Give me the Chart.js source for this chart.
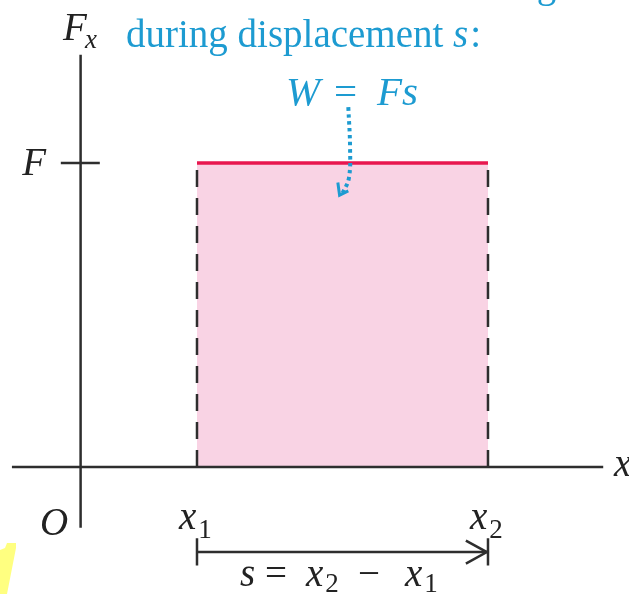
<!DOCTYPE html>
<html>
<head>
<meta charset="utf-8">
<script src="https://cdn.jsdelivr.net/npm/chart.js@4"></script>
<style>
  html, body { margin: 0; padding: 0; background: #fff; }
  #wrap { width: 629px; height: 594px; position: relative; }
</style>
</head>
<body>
<div id="wrap"><canvas id="chart" width="629" height="594"></canvas></div>
<script>
// schematic values (arbitrary units)
const posLabels = ['O', 'x1', 'x2'];
const posValues = [0, 2, 7];
const forceLabel = 'F';
const forceValue = 5;

const forceX = [2, 7];
const forceY = [5, 5];
const xAxisEnds = [-1.18, 8.98];
const yAxisEnds = [-1.0, 6.78];
const sArrowY = -1.4;

// dotted pointer from "W = Fs" down into the area
const pointerX = [4.6, 4.63, 4.61, 4.5];
const pointerY = [5.92, 5.25, 4.75, 4.5];

const ink = '#2e2e2e';
const blue = '#1d9bd1';
const serif = '"Liberation Serif", "DejaVu Serif", serif';

const pts = (xs, ys) => xs.map((x, i) => ({ x: x, y: ys[i] }));
const seg = (data, color, width, dash) => ({
  data: data,
  showLine: true,
  borderColor: color,
  borderWidth: width,
  borderDash: dash || [],
  borderCapStyle: 'butt',
  pointRadius: 0,
  fill: false,
  clip: false,
  tension: 0,
  order: 1
});

const x1 = posValues[1], x2 = posValues[2];
const F = forceValue;

const datasets = [
  // work area (drawn underneath everything else)
  {
    data: pts(forceX, forceY),
    showLine: true,
    borderColor: '#e8174f',
    borderWidth: 3.5,
    backgroundColor: '#f9d3e4',
    fill: 'origin',
    pointRadius: 0,
    clip: false,
    order: 5
  },
  seg([{ x: x1, y: 0 }, { x: x1, y: F - 0.03 }], ink, 2.5, [17, 11]),
  seg([{ x: x2, y: 0 }, { x: x2, y: F - 0.03 }], ink, 2.5, [17, 11]),
  // axes
  seg([{ x: xAxisEnds[0], y: 0 }, { x: xAxisEnds[1], y: 0 }], ink, 2.5),
  seg([{ x: 0, y: yAxisEnds[0] }, { x: 0, y: yAxisEnds[1] }], ink, 2.5),
  // tick at F
  seg([{ x: -0.34, y: F }, { x: 0.33, y: F }], ink, 2.5),
  // s arrow
  seg([{ x: x1, y: sArrowY }, { x: x2, y: sArrowY }], ink, 2.5),
  seg([{ x: x1, y: sArrowY + 0.23 }, { x: x1, y: sArrowY - 0.22 }], ink, 2.5),
  seg([{ x: x2, y: sArrowY + 0.23 }, { x: x2, y: sArrowY - 0.22 }], ink, 2.5),
  seg([{ x: x2 - 0.38, y: sArrowY + 0.19 }, { x: x2 - 0.02, y: sArrowY }, { x: x2 - 0.38, y: sArrowY - 0.19 }], ink, 2.5),
  // blue dotted pointer
  Object.assign(seg(pts(pointerX, pointerY), blue, 4, [3.5, 3.5]), { tension: 0.4 }),
  seg([{ x: 4.42, y: 4.68 }, { x: 4.45, y: 4.47 }, { x: 4.6, y: 4.54 }], blue, 3)
];

function italicSub(ctx, base, sub, x, y, size, drop) {
  ctx.font = 'italic ' + size + 'px ' + serif;
  ctx.fillText(base, x, y);
  const w = ctx.measureText(base).width;
  ctx.font = Math.round(size * 0.68) + 'px ' + serif;
  ctx.fillText(sub, x + w + 2, y + drop);
  return x + w + 2 + ctx.measureText(sub).width;
}

const labels = {
  id: 'labels',
  beforeDraw(chart) {
    const ctx = chart.ctx;
    ctx.save();
    ctx.fillStyle = '#ffff80';
    ctx.beginPath();
    ctx.moveTo(0, 550); ctx.lineTo(5, 548); ctx.lineTo(7, 543);
    ctx.lineTo(16, 543); ctx.lineTo(16, 548); ctx.lineTo(7, 594);
    ctx.lineTo(0, 594); ctx.closePath(); ctx.fill();
    ctx.restore();
  },
  afterDraw(chart) {
    const ctx = chart.ctx;
    const xs = chart.scales.x, ys = chart.scales.y;
    const px = v => xs.getPixelForValue(v);
    const py = v => ys.getPixelForValue(v);
    ctx.save();
    ctx.textBaseline = 'alphabetic';
    ctx.fillStyle = '#222';

    // axis labels
    ctx.font = 'italic 39px ' + serif;
    ctx.textAlign = 'right';
    ctx.fillText(forceLabel, 46, py(F) + 12);
    ctx.textAlign = 'left';
    ctx.fillText('F', 63, 40);
    ctx.font = 'italic 27px ' + serif;
    ctx.fillText('x', 85, 48);
    ctx.font = 'italic 39px ' + serif;
    ctx.fillText('x', 614, py(0) + 9);
    ctx.fillText(posLabels[0], 40, 535);
    italicSub(ctx, 'x', '1', px(x1) - 18, 529, 39, 9);
    italicSub(ctx, 'x', '2', px(x2) - 18, 529, 39, 9);

    // s = x2 - x1
    ctx.font = 'italic 39px ' + serif;
    ctx.fillText('s', 240, 586);
    ctx.font = '39px ' + serif;
    ctx.fillText('=', 265, 586);
    italicSub(ctx, 'x', '2', 306, 586, 39, 6);
    ctx.font = '39px ' + serif;
    ctx.fillText('\u2212', 358, 586);
    italicSub(ctx, 'x', '1', 405, 586, 39, 6);

    // caption (first line is cut off by the top edge)
    ctx.fillStyle = blue;
    ctx.font = '39px ' + serif;
    ctx.wordSpacing = '8px';
    ctx.fillText('the constant force of magnitude ', 128, -3);
    ctx.wordSpacing = '0px';
    ctx.fillText('during displacement ', 126, 47);
    let w = ctx.measureText('during displacement ').width;
    ctx.font = 'italic 39px ' + serif;
    ctx.fillText('s', 126 + w, 47);
    let w2 = ctx.measureText('s').width;
    ctx.font = '39px ' + serif;
    ctx.fillText(':', 126 + w + w2 + 2, 47);

    ctx.font = 'italic 41px ' + serif;
    ctx.fillText('W', 286, 105);
    ctx.font = '41px ' + serif;
    ctx.fillText('=', 334, 105);
    ctx.font = 'italic 41px ' + serif;
    ctx.fillText('F', 377, 105);
    ctx.fillText('s', 402, 105);
    ctx.restore();
  }
};

new Chart('chart', {
  type: 'scatter',
  data: { datasets: datasets },
  options: {
    responsive: false,
    animation: false,
    layout: { padding: 0 },
    plugins: { legend: { display: false }, tooltip: { enabled: false } },
    scales: {
      x: { type: 'linear', display: false, min: -1.385, max: 9.423 },
      y: { type: 'linear', display: false, min: -2.089, max: 7.681 }
    }
  },
  plugins: [labels]
});
</script>
</body>
</html>
